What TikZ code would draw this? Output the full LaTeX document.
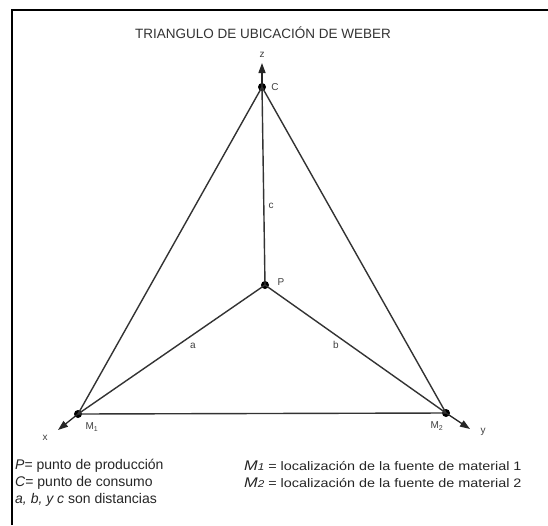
\documentclass[tikz,border=0pt]{standalone}
\usepackage{fontspec}
\setmainfont{Liberation Sans}
\newfontfamily\widefont[FakeStretch=1.17]{Liberation Sans}
\usetikzlibrary{arrows.meta,calc}
\begin{document}
\begin{tikzpicture}[x=1pt,y=-1pt,
  edge/.style={draw=black!80,line width=1.4pt},
  axis/.style={draw=black!85,line width=1.3pt,-{Triangle[length=10pt,width=7pt]}},
  dot/.style={circle,fill=black,inner sep=0pt,minimum size=8pt},
  lbl/.style={text=black!75,font=\fontsize{10}{11}\selectfont,inner sep=1pt},
  leg/.style={anchor=west,text=black!85,font=\fontsize{14}{16}\selectfont,inner sep=0pt},
  legs/.style={anchor=west,text=black!85,font=\widefont\fontsize{12.3}{14}\selectfont,inner sep=0pt}]
\useasboundingbox (0,0) rectangle (548,525);
\fill[white] (0,0) rectangle (548,525);
% frame
\draw[line width=2pt,black] (12,525) -- (12,10) -- (548,10);
% title
\node[text=black!80,font=\fontsize{13.5}{15}\selectfont] (title) at (263,33) {TRIANGULO DE UBICACIÓN DE WEBER};
% points
\node[dot] (C) at (262,87) {};
\node[dot] (P) at (265,285) {};
\node[dot] (M1) at (78,414) {};
\node[dot] (M2) at (446,413) {};
% axis ends
\coordinate (zt) at (262,63);
\coordinate (xt) at (58,430);
\coordinate (yt) at (470,429);
% edges
\draw[edge] (C.center) -- (M1.center);
\draw[edge] (C.center) -- (M2.center);
\draw[edge] (M1.center) -- (M2.center);
\draw[edge] (C.center) -- (P.center);
\draw[edge] (P.center) -- (M1.center);
\draw[edge] (P.center) -- (M2.center);
% axes
\draw[axis] (C.center) -- (zt);
\draw[axis] (M1.center) -- (xt);
\draw[axis] (M2.center) -- (yt);
% labels
\node[lbl] (zl) at (262,55) {z};
\node[lbl] (xl) at (45,438) {x};
\node[lbl] (yl) at (483,432) {y};
\node[lbl] (Cl) at (275,87) {C};
\node[lbl] (Pl) at (281,282) {P};
\node[lbl] (cl) at (271,206) {c};
\node[lbl] (al) at (193,346) {a};
\node[lbl] (bl) at (336,345) {b};
\node[lbl] (M1l) at (92,427) {M\textsubscript{1}};
\node[lbl] (M2l) at (437,426) {M\textsubscript{2}};
% legend
\node[leg] (l1) at (15,466) {\textit{P}= punto de producción};
\node[leg] (l2) at (15,483) {\textit{C}= punto de consumo};
\node[leg] (l3) at (15,500) {\textit{a, b, y c} son distancias};
\node[legs] (l4) at (244,466) {{\fontsize{14}{16}\selectfont\textit{M}}{\fontsize{10}{11}\selectfont\textit{1}} = localización de la fuente de material 1};
\node[legs] (l5) at (244,483) {{\fontsize{14}{16}\selectfont\textit{M}}{\fontsize{10}{11}\selectfont\textit{2}} = localización de la fuente de material 2};
\end{tikzpicture}
\end{document}
